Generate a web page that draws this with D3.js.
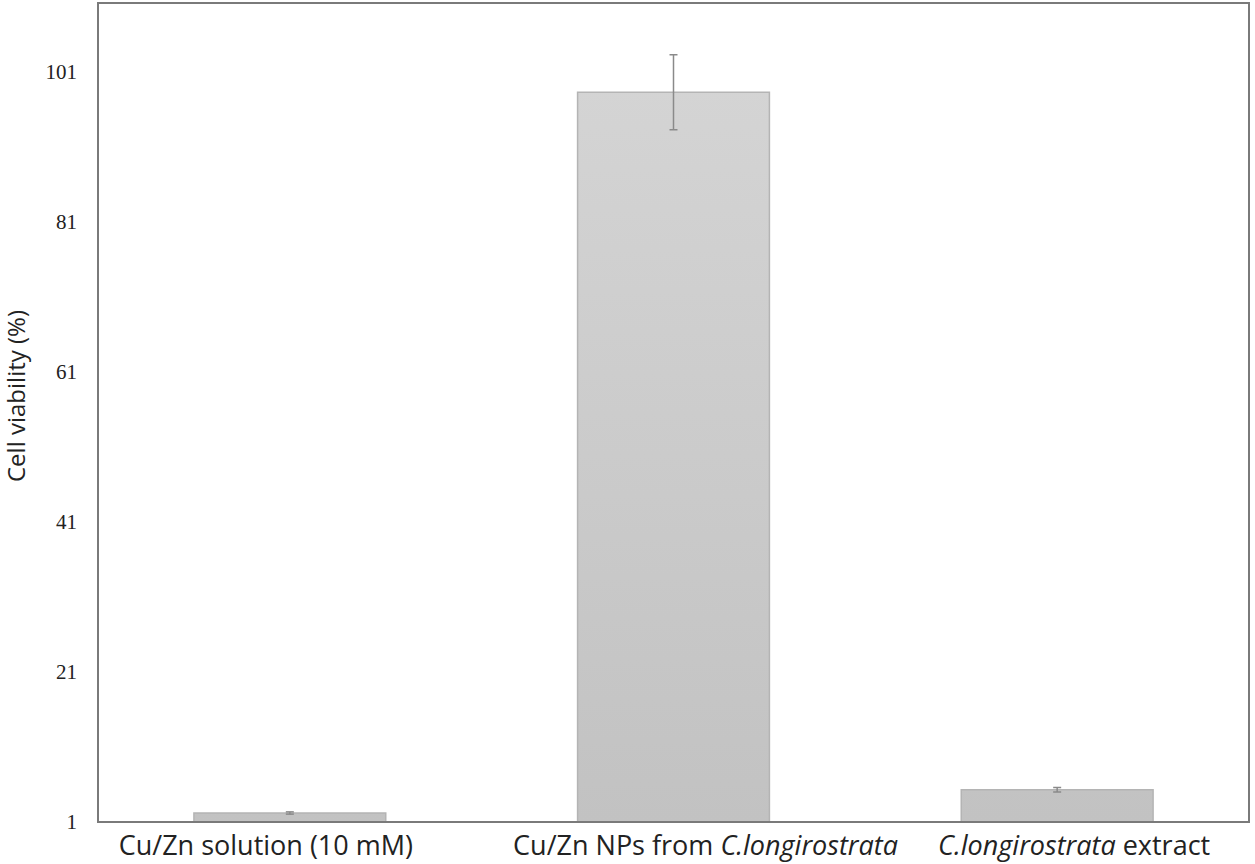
<!DOCTYPE html>
<html><head><meta charset="utf-8">
<script src="https://cdn.jsdelivr.net/npm/d3@7"></script>
<style>body{margin:0;background:#fff}</style>
</head><body>
<svg id="c" width="1255" height="864"></svg>
<script>
const categories = ["Cu/Zn solution (10 mM)", "Cu/Zn NPs from C.longirostrata", "C.longirostrata extract"];
const labelParts = [
  [["Cu/Zn solution (10 mM)", false]],
  [["Cu/Zn NPs from ", false], ["C.longirostrata", true]],
  [["C.longirostrata", true], [" extract", false]]
];
const values = [2.2, 98.3, 5.3];
const errors = [0.15, 5.0, 0.3];
const yTicks = [1, 21, 41, 61, 81, 101];

// layout: label shifts relative to the bar centre, as placed in the original figure
const labelShift = [-24, 32, 17];

const svg = d3.select("#c");
const m = {l: 98, r: 6, t: 3, b: 42};
const W = 1255, H = 864;
const x = d3.scaleBand().domain(categories).range([m.l, W - m.r]).paddingInner(0.5).paddingOuter(0.25);
const y = d3.scaleLinear().domain([1, 110.2]).range([H - m.b, m.t]);

const defs = svg.append("defs");
const g = defs.append("linearGradient").attr("id", "bg")
  .attr("gradientUnits", "userSpaceOnUse").attr("x1", 0).attr("x2", 0).attr("y1", y(110)).attr("y2", y(1));
g.append("stop").attr("offset", "0%").attr("stop-color", "#d6d6d6");
g.append("stop").attr("offset", "100%").attr("stop-color", "#c2c2c2");

// bars
svg.selectAll("rect.bar").data(values).enter().append("rect")
  .attr("class", "bar")
  .attr("x", (d, i) => x(categories[i]))
  .attr("width", x.bandwidth())
  .attr("y", d => y(d))
  .attr("height", d => y(1) - y(d))
  .attr("fill", "url(#bg)")
  .attr("stroke", "#b4b4b4").attr("stroke-width", 1.5);

// error bars
const eb = svg.selectAll("g.err").data(values).enter().append("g").attr("class", "err")
  .attr("stroke", "#8a8a8a").attr("stroke-width", 1.5);
eb.append("line")
  .attr("x1", (d, i) => x(categories[i]) + x.bandwidth() / 2)
  .attr("x2", (d, i) => x(categories[i]) + x.bandwidth() / 2)
  .attr("y1", (d, i) => y(d + errors[i]))
  .attr("y2", (d, i) => y(d - errors[i]));
[1, -1].forEach(s => {
  eb.append("line")
    .attr("x1", (d, i) => x(categories[i]) + x.bandwidth() / 2 - 4)
    .attr("x2", (d, i) => x(categories[i]) + x.bandwidth() / 2 + 4)
    .attr("y1", (d, i) => y(d + s * errors[i]))
    .attr("y2", (d, i) => y(d + s * errors[i]));
});

// frame
svg.append("rect").attr("x", m.l).attr("y", m.t).attr("width", W - m.r - m.l).attr("height", y(1) - m.t)
  .attr("fill", "none").attr("stroke", "#7a7a7a").attr("stroke-width", 2);

// y axis
const ya = svg.append("g").attr("transform", `translate(${m.l},0)`)
  .call(d3.axisLeft(y).tickValues(yTicks).tickSize(0).tickPadding(21));
ya.select(".domain").remove();
ya.selectAll("text").attr("font-family", "'Liberation Serif', 'Times New Roman', serif")
  .attr("font-size", 21).attr("fill", "#222");

// x labels
const xa = svg.append("g").attr("transform", `translate(0,${y(1)})`)
  .call(d3.axisBottom(x).tickSize(0).tickFormat(""));
xa.select(".domain").remove();
xa.selectAll(".tick").each(function(d, i) {
  const t = d3.select(this).append("text").attr("y", 33).attr("x", labelShift[i]).attr("text-anchor", "middle")
    .attr("font-family", "'Open Sans', sans-serif").attr("font-size", 27).attr("fill", "#222");
  labelParts[i].forEach(p => {
    t.append("tspan").text(p[0]).attr("font-style", p[1] ? "italic" : "normal");
  });
});

// y title
svg.append("text").attr("transform", `translate(25,396) rotate(-90)`)
  .attr("text-anchor", "middle").attr("font-family", "'Open Sans', sans-serif")
  .attr("font-size", 24).attr("fill", "#222").text("Cell viability (%)");
</script>
</body></html>
